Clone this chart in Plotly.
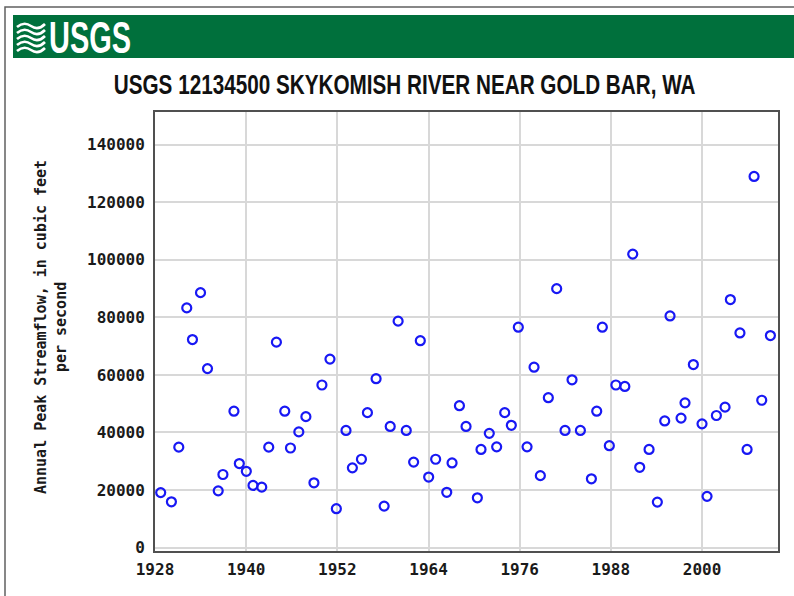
import plotly.graph_objects as go

# Annual peak streamflow, USGS 12134500 Skykomish River near Gold Bar, WA
# Peak dates expressed as decimal years, flows in cubic feet per second.
peak_date = [
    1928.75, 1930.16, 1931.13, 1932.18, 1932.93, 1933.99, 1934.91, 1936.32,
    1936.94, 1938.39, 1939.10, 1940.02, 1940.90, 1942.05, 1942.97, 1943.98,
    1945.08, 1945.83, 1946.93, 1947.86, 1948.92, 1949.97, 1951.03, 1951.87,
    1953.14, 1953.98, 1955.17, 1955.96, 1957.10, 1958.16, 1958.96, 1960.00,
    1961.07, 1962.04, 1962.92, 1964.02, 1964.94, 1966.40, 1967.10, 1968.07,
    1968.94, 1970.43, 1970.91, 1972.00, 1972.97, 1974.03, 1974.90, 1975.82,
    1976.97, 1977.89, 1978.72, 1979.77, 1980.87, 1981.97, 1982.89, 1983.99,
    1985.44, 1986.14, 1986.88, 1987.80, 1988.66, 1989.84, 1990.88, 1991.80,
    1993.03, 1994.12, 1995.09, 1995.79, 1997.24, 1997.76, 1998.86, 2000.00,
    2000.66, 2001.89, 2003.03, 2003.73, 2004.99, 2005.93, 2006.85, 2007.86,
    2009.00,
]
peak_flow = [
    19100, 15900, 34900, 83300, 72300, 88600, 62200, 19700,
    25400, 47400, 29200, 26500, 21600, 21000, 34900, 71400,
    47400, 34600, 40200, 45500, 22500, 56500, 65500, 13500,
    40700, 27700, 30700, 46900, 58700, 14400, 42100, 78700,
    40700, 29700, 71900, 24500, 30700, 19200, 29400, 49300,
    42100, 17300, 34100, 39700, 35000, 46900, 42500, 76600,
    35000, 62700, 25000, 52100, 90000, 40700, 58300, 40700,
    23900, 47400, 76600, 35400, 56500, 56000, 102000, 27900,
    34100, 15800, 44000, 80500, 45000, 50300, 63600, 43000,
    17800, 45900, 48800, 86200, 74600, 34100, 129000, 51200,
    73700,
]

x_ticks = [1928, 1940, 1952, 1964, 1976, 1988, 2000]
y_ticks = [0, 20000, 40000, 60000, 80000, 100000, 120000, 140000]

agency = "USGS"
title_text = "USGS 12134500 SKYKOMISH RIVER NEAR GOLD BAR, WA"
y_title = "Annual Peak Streamflow, in cubic feet<br>per second"

W, H = 794, 596
L, R, T, B = 155, 16, 112, 45
PW, PH = W - L - R, H - T - B


def px(X):
    return (X - L) / PW


def py(Y):
    return (H - B - Y) / PH


mono = "DejaVu Sans Mono, Liberation Mono, monospace"
sans = "Liberation Sans, Arial, sans-serif"
blue = "#1818f4"

fig = go.Figure()
fig.add_trace(go.Scatter(
    x=peak_date, y=peak_flow, mode="markers",
    marker=dict(symbol="circle-open", size=9, color=blue,
                line=dict(width=2.2, color=blue)),
    hoverinfo="x+y",
))

axis_common = dict(
    showgrid=True, gridcolor="#d8d8d8", gridwidth=1.5,
    showline=True, mirror=True, linecolor="#505050", linewidth=2,
    ticks="", zeroline=False,
    tickfont=dict(family=mono, size=16, color="#1a1a1a", weight="bold"),
)

fig.update_xaxes(range=[1928, 2010], tickvals=x_ticks,
                 ticktext=[str(v) for v in x_ticks], ticklabelstandoff=3,
                 **axis_common)
fig.update_yaxes(range=[-1200, 151400], tickvals=y_ticks,
                 ticktext=[str(v) for v in y_ticks], ticklabelstandoff=5,
                 **axis_common)

shapes = [
    # outer frame
    dict(type="rect", xref="paper", yref="paper",
         x0=px(5), x1=px(W + 20), y0=py(H + 20), y1=py(7),
         line=dict(color="#606060", width=1.5), fillcolor="rgba(0,0,0,0)",
         layer="below"),
    # green banner
    dict(type="rect", xref="paper", yref="paper",
         x0=px(13), x1=px(W + 10), y0=py(58), y1=py(15),
         line=dict(width=0), fillcolor="#00703c", layer="below"),
]

# wave emblem beside the agency name
for y0 in [25, 31, 37, 43, 49]:
    path = (f"M {px(17)},{py(y0 + 2)} "
            f"Q {px(24)},{py(y0 - 4)} {px(31)},{py(y0 + 1)} "
            f"T {px(45)},{py(y0 - 1)}")
    shapes.append(dict(type="path", xref="paper", yref="paper", path=path,
                       line=dict(color="white", width=2.6)))

annotations = [
    dict(text=f"<b>{agency}</b>", xref="paper", yref="paper",
         x=px(47), y=py(38), xanchor="left", yanchor="middle",
         showarrow=False, font=dict(family=sans, size=44, color="white")),
    dict(text=f"<b>{title_text}</b>", xref="paper", yref="paper",
         x=px(404), y=py(84), xanchor="center", yanchor="middle",
         showarrow=False, font=dict(family=sans, size=28, color="#111111")),
    dict(text=y_title, xref="paper", yref="paper",
         x=px(51), y=py(327), xanchor="center", yanchor="middle",
         textangle=-90, showarrow=False,
         font=dict(family=mono, size=15, color="#1a1a1a", weight="bold")),
]

fig.update_layout(
    width=W, height=H,
    margin=dict(l=L, r=R, t=T, b=B, autoexpand=False),
    paper_bgcolor="white", plot_bgcolor="white",
    showlegend=False, shapes=shapes, annotations=annotations,
)

# Narrow the banner and heading lettering horizontally (condensed face).
condense_js = """
var gd = document.getElementById('{plot_id}');
var targets = {"%s": [82, 'left'], "%s": [582, 'center']};
gd.querySelectorAll('g.annotation text.annotation-text').forEach(function (t) {
    var key = t.textContent;
    if (!(key in targets)) { return; }
    var bb = t.getBBox();
    var s = targets[key][0] / bb.width;
    var cx = targets[key][1] === 'left' ? bb.x : bb.x + bb.width / 2;
    t.setAttribute('transform',
        'translate(' + cx + ',0) scale(' + s + ',1) translate(' + (-cx) + ',0)');
});
""" % (agency, title_text)

fig.write_html("out.html", post_script=condense_js)
